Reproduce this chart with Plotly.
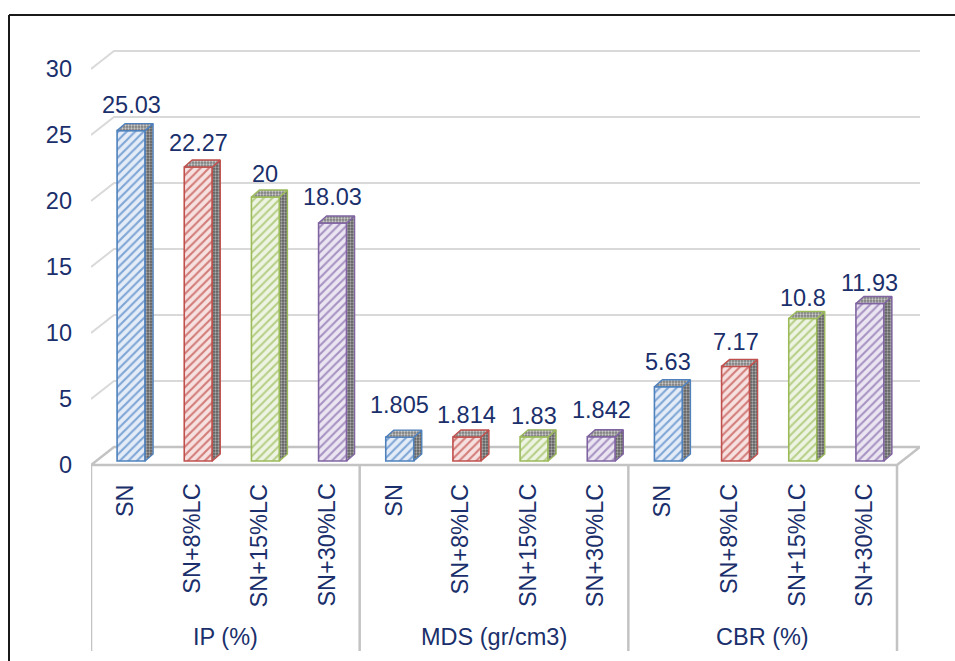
import plotly.graph_objects as go

# ---- data ----
groups = ["IP (%)", "MDS (gr/cm3)", "CBR (%)"]
mixes = ["SN", "SN+8%LC", "SN+15%LC", "SN+30%LC"]
ip_values = [25.03, 22.27, 20, 18.03]
mds_values = [1.805, 1.814, 1.83, 1.842]
cbr_values = [5.63, 7.17, 10.8, 11.93]
y_ticks = [0, 5, 10, 15, 20, 25, 30]

# ---- styling ----
edge_colors = ["#4F81BD", "#C0504D", "#9BBB59", "#8064A2"]
face_bg = ["#e4ecf7", "#f6e1e0", "#eef4e3", "#ebe5f2"]
face_fg = ["#7ea5d6", "#d27c79", "#b6cf86", "#a792c2"]
text_color = "#1a2f6b"
grid_color = "#d9d9d9"
frame_color = "#c3c3c3"
font_family = "Liberation Sans, Arial, sans-serif"
font_size = 23.5

# label lift above each bar's front-top edge (pixels), per group
label_lift = [[26, 24, 23, 26], [32, 22, 21, 27], [25, 24, 20, 21]]

# ---- geometry (pixel sizes converted to axis units) ----
W, H = 955, 661
M_L, M_R, M_T, M_B = 91, 35, 40, 0
PX_X = 806 / 12.0          # pixels per category slot
PX_Y = 13.2                # pixels per value unit
Y_MIN = -(H - M_B - 465) / PX_Y
Y_MAX = (465 - M_T) / PX_Y
FD_X, FD_Y = 23 / PX_X, 18 / PX_Y       # floor / wall depth
BAR_W = 28 / PX_X
BAR_SHIFT = 6.5 / PX_X
BAR_LIFT = 4 / PX_Y
BD_X, BD_Y = 8 / PX_X, 7 / PX_Y         # bar depth
n_slots = len(groups) * len(mixes)
X_LO, X_HI = -0.5, n_slots - 0.5

series = [[ip_values[i], mds_values[i], cbr_values[i]] for i in range(len(mixes))]

fig = go.Figure()

for i, mix in enumerate(mixes):
    xs = [g * len(mixes) + i + BAR_SHIFT for g in range(len(groups))]
    vals = series[i]
    fig.add_trace(go.Bar(
        x=xs, y=vals, base=BAR_LIFT, width=BAR_W, name=mix,
        marker=dict(
            color=face_bg[i],
            line=dict(color=edge_colors[i], width=1.6),
            pattern=dict(shape="/", fgcolor=face_fg[i], bgcolor=face_bg[i],
                         size=6, solidity=0.35, fillmode="replace"),
        ),
        hoverinfo="skip", showlegend=False,
    ))
    side_x, side_y, top_x, top_y = [], [], [], []
    for xc, v in zip(xs, vals):
        x0, x1 = xc - BAR_W / 2, xc + BAR_W / 2
        b, t = BAR_LIFT, v + BAR_LIFT
        side_x += [x1, x1, x1 + BD_X, x1 + BD_X, x1, None]
        side_y += [b, t, t + BD_Y, b + BD_Y, b, None]
        top_x += [x0, x1, x1 + BD_X, x0 + BD_X, x0, None]
        top_y += [t, t, t + BD_Y, t + BD_Y, t, None]
    fig.add_trace(go.Scatter(
        x=side_x, y=side_y, mode="lines", fill="toself",
        fillcolor="#666666",
        fillpattern=dict(shape=".", fgcolor="#a9a9a9", bgcolor="#5e5e5e",
                         size=3, solidity=0.45, fillmode="replace"),
        line=dict(color=edge_colors[i], width=1.4),
        hoverinfo="skip", showlegend=False,
    ))
    fig.add_trace(go.Scatter(
        x=top_x, y=top_y, mode="lines", fill="toself",
        fillcolor="#8a8a8a",
        fillpattern=dict(shape=".", fgcolor="#c9c9c9", bgcolor="#7c7c7c",
                         size=3, solidity=0.45, fillmode="replace"),
        line=dict(color=edge_colors[i], width=1.4),
        hoverinfo="skip", showlegend=False,
    ))
    # value labels
    for g, (xc, v) in enumerate(zip(xs, vals)):
        fig.add_annotation(
            x=xc, y=v + BAR_LIFT, yshift=label_lift[g][i], text=f"{v:g}",
            showarrow=False, xanchor="center", yanchor="middle",
            font=dict(size=font_size, color=text_color, family=font_family),
        )

shapes = []
# back-wall gridlines with their diagonal lead-in from the front plane
for v in y_ticks[1:]:
    shapes.append(dict(
        type="path", xref="x", yref="y", layer="below",
        path=f"M {X_LO},{v} L {X_LO + FD_X},{v + FD_Y} L {X_HI + FD_X},{v + FD_Y}",
        line=dict(color=grid_color, width=2),
    ))
# floor
shapes.append(dict(
    type="path", xref="x", yref="y", layer="below",
    path=(f"M {X_LO},0 L {X_LO + FD_X},{FD_Y} L {X_HI + FD_X},{FD_Y} "
          f"L {X_HI},0 Z"),
    line=dict(color=frame_color, width=2.5), fillcolor="white",
))
# category dividers below the floor
div_bottom = -(651 - 465) / PX_Y
for k in range(len(groups) + 1):
    xk = X_LO + k * len(mixes)
    shapes.append(dict(
        type="line", xref="x", yref="y", layer="below",
        x0=xk, x1=xk, y0=0, y1=div_bottom,
        line=dict(color=frame_color, width=2.5),
    ))
# outer frame
plot_w = W - M_L - M_R
plot_h = H - M_T - M_B
fx = (9 - M_L) / plot_w
fy = (H - M_B - 15) / plot_h
shapes.append(dict(type="line", xref="paper", yref="paper",
                   x0=fx, x1=fx, y0=-0.1, y1=fy,
                   line=dict(color="#1a1a1a", width=2)))
shapes.append(dict(type="line", xref="paper", yref="paper",
                   x0=fx, x1=1.2, y0=fy, y1=fy,
                   line=dict(color="#1a1a1a", width=2)))

# category labels
for g, grp in enumerate(groups):
    for i, mix in enumerate(mixes):
        fig.add_annotation(
            x=g * len(mixes) + i, y=-17 / PX_Y, text=mix, textangle=-90,
            showarrow=False, xanchor="center", yanchor="top",
            font=dict(size=font_size, color=text_color, family=font_family),
        )
    fig.add_annotation(
        x=g * len(mixes) + (len(mixes) - 1) / 2, y=-(637 - 465) / PX_Y,
        text=grp, showarrow=False, xanchor="center", yanchor="middle",
        font=dict(size=font_size, color=text_color, family=font_family),
    )

fig.update_layout(
    width=W, height=H,
    margin=dict(l=M_L, r=M_R, t=M_T, b=M_B),
    paper_bgcolor="white", plot_bgcolor="white",
    barmode="overlay", shapes=shapes,
    xaxis=dict(range=[X_LO, X_HI + FD_X], visible=False, fixedrange=True),
    yaxis=dict(range=[Y_MIN, Y_MAX], tickvals=y_ticks, ticks="",
               showgrid=False, zeroline=False, showline=False,
               ticklabelstandoff=18,
               tickfont=dict(size=font_size, color=text_color, family=font_family)),
)

fig.write_html("out.html")
